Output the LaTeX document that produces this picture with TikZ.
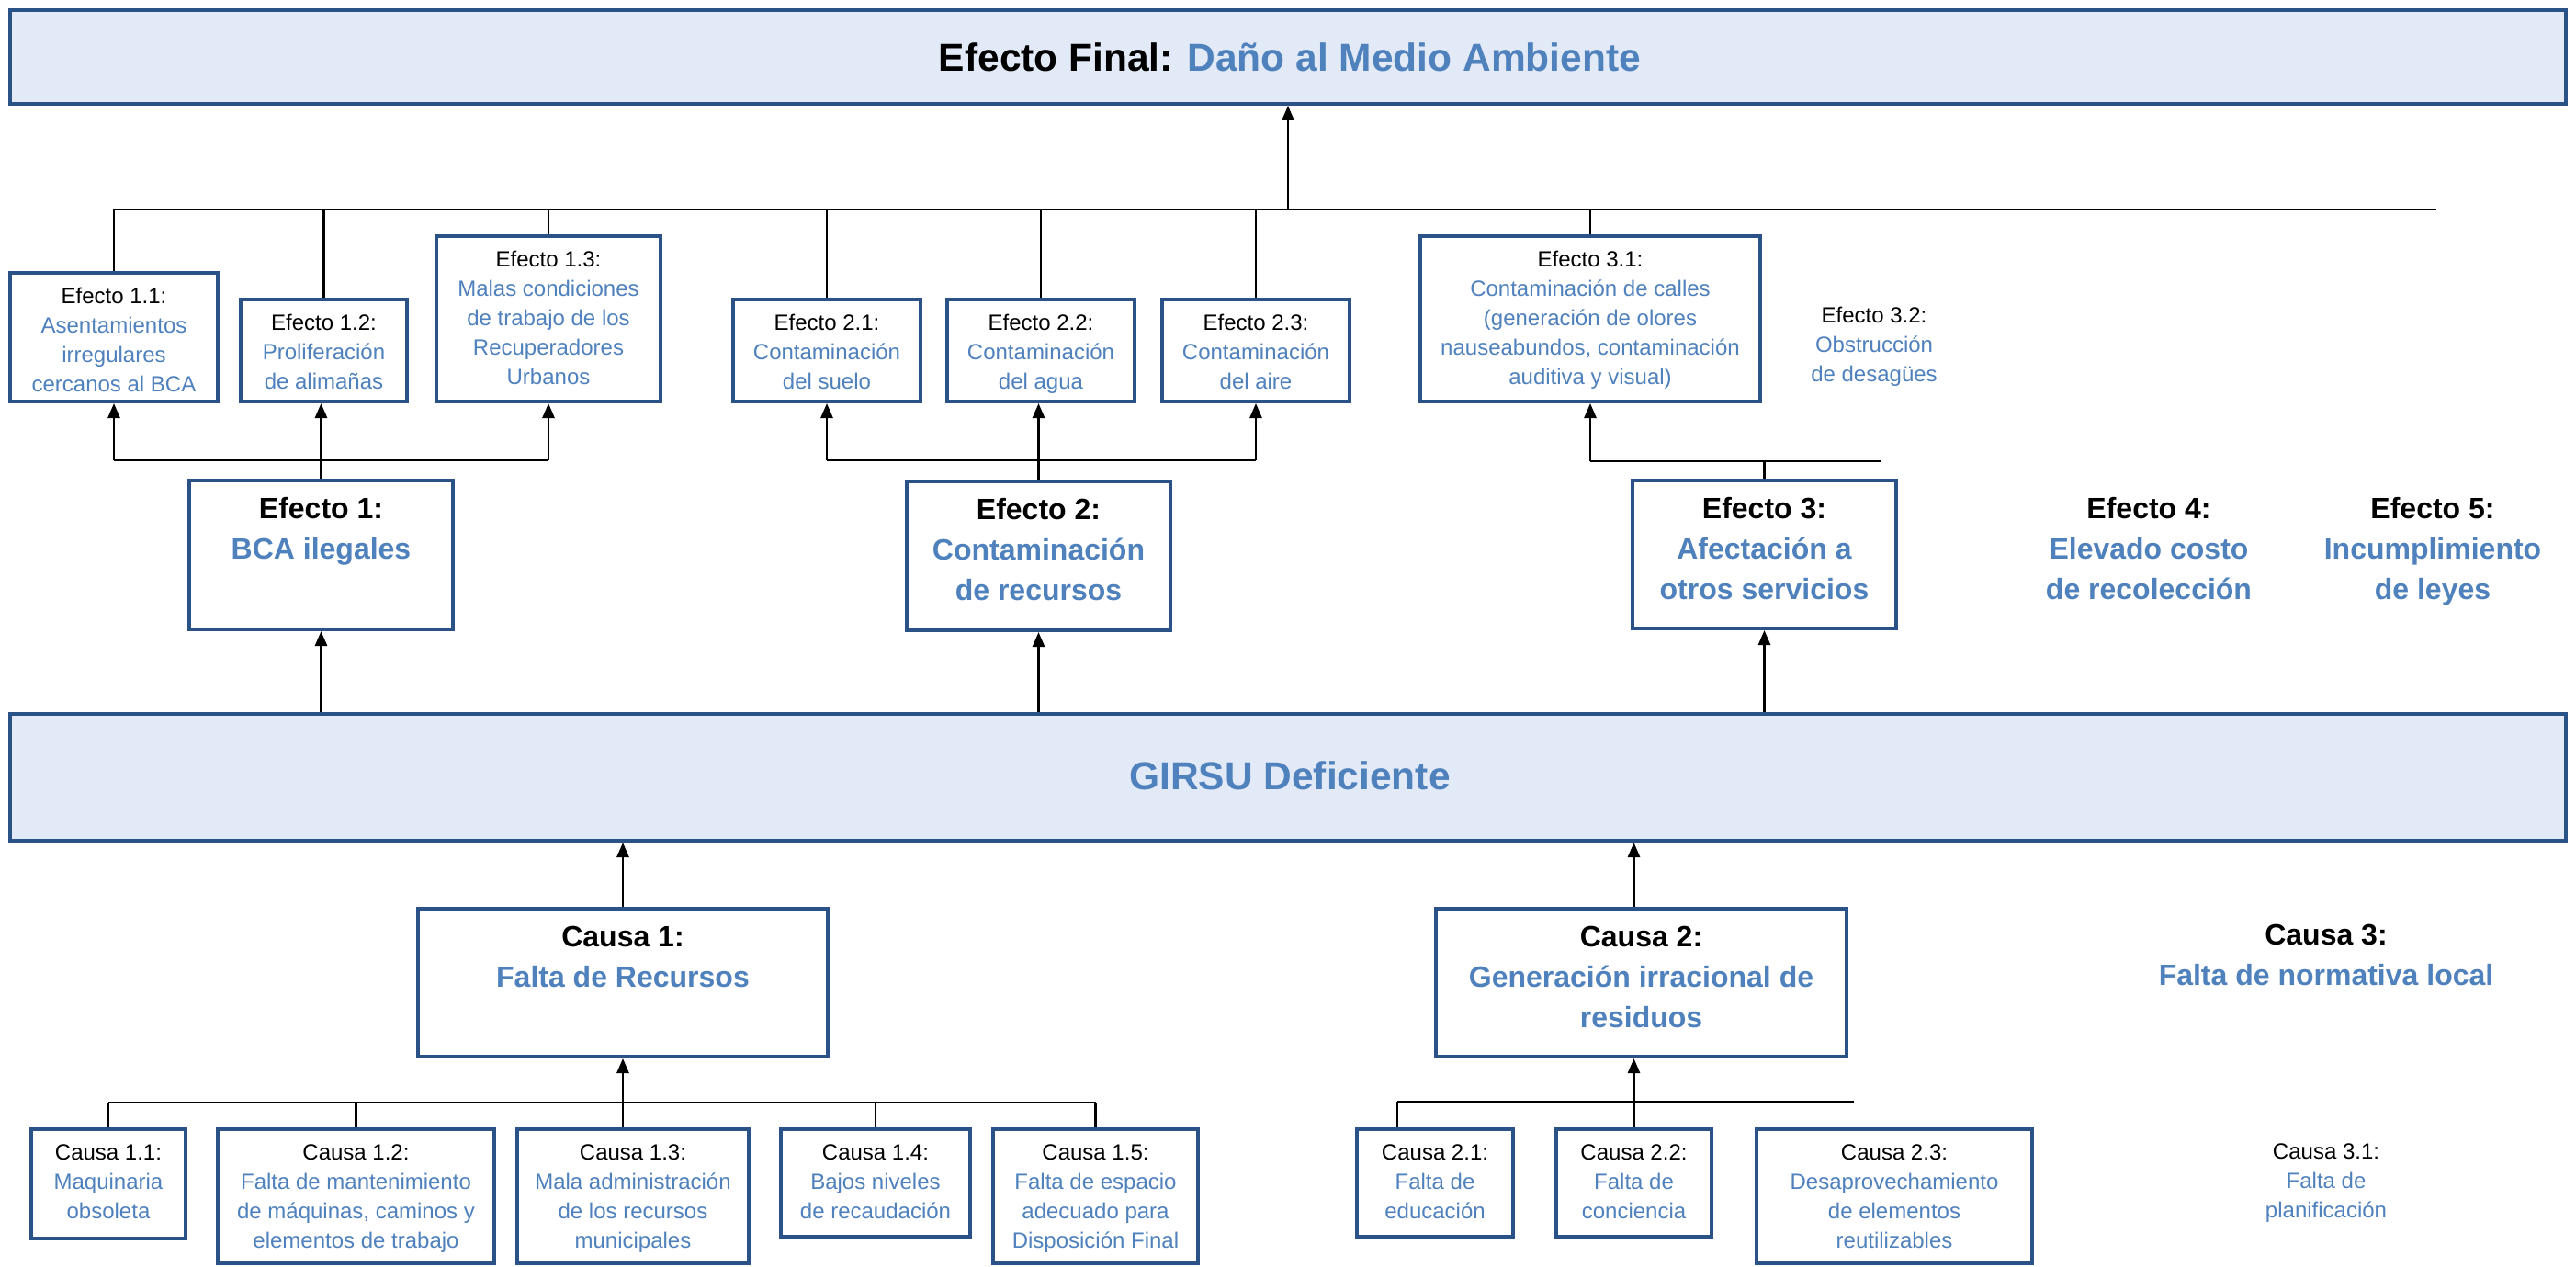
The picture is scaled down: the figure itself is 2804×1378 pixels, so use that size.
\documentclass[tikz,border=0pt]{standalone}
\usepackage{fontspec}
\setmainfont{Liberation Sans}
\usetikzlibrary{arrows.meta}
\definecolor{bdr}{HTML}{2B5286}
\definecolor{tblue}{HTML}{4F81BD}
\definecolor{lfill}{HTML}{E1EAF6}
\tikzset{
 boxn/.style={draw=bdr, line width=4pt, fill=white, inner sep=0pt},
 bigbox/.style={draw=bdr, line width=4pt, fill=lfill, inner sep=0pt},
 subtxt/.style={anchor=north, align=center, inner sep=0pt, text=tblue, font=\fontsize{24}{32}\selectfont},
 midtxt/.style={anchor=north, align=center, inner sep=0pt, text=tblue, font=\fontsize{32}{44}\selectfont\bfseries},
 bigtxt/.style={anchor=base, inner sep=0pt, text=tblue, font=\fontsize{42.5}{50}\selectfont\bfseries},
 conn/.style={line width=2.2pt, black},
 arr/.style={line width=2.6pt, black, -{Triangle[length=16pt,width=13pt]}},
}
\newcommand\subbox[7]{%
 \pgfmathsetmacro\mW{#4-#2-4}\pgfmathsetmacro\mH{#5-#3-4}%
 \pgfmathsetmacro\mX{(#2+#4)/2}\pgfmathsetmacro\mY{(#3+#5)/2}%
 \pgfmathsetmacro\mT{#3+13.1}%
 \node[boxn, minimum width=\mW pt, minimum height=\mH pt] (#1) at (\mX,\mY) {};
 \node[subtxt] (#1t) at (\mX,\mT) {\strut\textcolor{black}{#6}\\#7};}
\newcommand\midbox[7]{%
 \pgfmathsetmacro\mW{#4-#2-4}\pgfmathsetmacro\mH{#5-#3-4}%
 \pgfmathsetmacro\mX{(#2+#4)/2}\pgfmathsetmacro\mY{(#3+#5)/2}%
 \pgfmathsetmacro\mT{#3+12.2}%
 \node[boxn, minimum width=\mW pt, minimum height=\mH pt] (#1) at (\mX,\mY) {};
 \node[midtxt] (#1t) at (\mX,\mT) {\strut\textcolor{black}{#6}\\#7};}
\begin{document}
\begin{tikzpicture}[x=1pt,y=-1pt]
\useasboundingbox (0,0) rectangle (2804,1378);
% main boxes
\node[bigbox, minimum width=2782pt, minimum height=102pt] (top) at (1402,62) {};
\node[bigtxt] (topt) at (1404,78) {\textcolor{black}{Efecto Final:} Daño al Medio Ambiente};
\node[bigbox, minimum width=2782pt, minimum height=138pt] (girsu) at (1402,846) {};
\node[bigtxt] (girsut) at (1404,859) {GIRSU Deficiente};
% effect sub-boxes
\subbox{e11}{9}{295}{239}{439}{Efecto 1.1:}{Asentamientos\\irregulares\\cercanos al BCA}
\subbox{e12}{260}{324}{445}{439}{Efecto 1.2:}{Proliferación\\de alimañas}
\subbox{e13}{473}{255}{721}{439}{Efecto 1.3:}{Malas condiciones\\de trabajo de los\\Recuperadores\\Urbanos}
\subbox{e21}{796}{324}{1004}{439}{Efecto 2.1:}{Contaminación\\del suelo}
\subbox{e22}{1029}{324}{1237}{439}{Efecto 2.2:}{Contaminación\\del agua}
\subbox{e23}{1263}{324}{1471}{439}{Efecto 2.3:}{Contaminación\\del aire}
\subbox{e31}{1544}{255}{1918}{439}{Efecto 3.1:}{Contaminación de calles\\(generación de olores\\nauseabundos, contaminación\\auditiva y visual)}
\node[subtxt] (e32) at (2040,329.2) {\strut\textcolor{black}{Efecto 3.2:}\\Obstrucción\\de desagües};
% effect boxes
\midbox{e1}{204}{521}{495}{687}{Efecto 1:}{BCA ilegales}
\midbox{e2}{985}{522}{1276}{688}{Efecto 2:}{Contaminación\\de recursos}
\midbox{e3}{1775}{521}{2066}{686}{Efecto 3:}{Afectación a\\otros servicios}
\node[midtxt] (e4) at (2339,533.7) {\strut\textcolor{black}{Efecto 4:}\\Elevado costo\\de recolección};
\node[midtxt] (e5) at (2648,533.7) {\strut\textcolor{black}{Efecto 5:}\\Incumplimiento\\de leyes};
% cause boxes
\midbox{c1}{453}{987}{903}{1152}{Causa 1:}{Falta de Recursos}
\midbox{c2}{1561}{987}{2012}{1152}{Causa 2:}{Generación irracional de\\residuos}
\node[midtxt] (c3) at (2532,997.7) {\strut\textcolor{black}{Causa 3:}\\Falta de normativa local};
% cause sub-boxes
\subbox{c11}{32}{1227}{204}{1350}{Causa 1.1:}{Maquinaria\\obsoleta}
\subbox{c12}{235}{1227}{540}{1377}{Causa 1.2:}{Falta de mantenimiento\\de máquinas, caminos y\\elementos de trabajo}
\subbox{c13}{561}{1227}{817}{1377}{Causa 1.3:}{Mala administración\\de los recursos\\municipales}
\subbox{c14}{848}{1227}{1058}{1348}{Causa 1.4:}{Bajos niveles\\de recaudación}
\subbox{c15}{1079}{1227}{1306}{1377}{Causa 1.5:}{Falta de espacio\\adecuado para\\Disposición Final}
\subbox{c21}{1475}{1227}{1649}{1348}{Causa 2.1:}{Falta de\\educación}
\subbox{c22}{1692}{1227}{1865}{1348}{Causa 2.2:}{Falta de\\conciencia}
\subbox{c23}{1910}{1227}{2214}{1377}{Causa 2.3:}{Desaprovechamiento\\de elementos\\reutilizables}
\node[subtxt] (c31) at (2532,1239.2) {\strut\textcolor{black}{Causa 3.1:}\\Falta de\\planificación};
% connectors: top hub
\coordinate (hy) at (0,228);
\coordinate (hubR) at (2652,228);
\draw[conn] (e11.north |- hy) -- (hubR);
\draw[arr] (top.south |- hy) -- (top.south);
\foreach \n in {e11,e12,e13,e21,e22,e23,e31}
  \draw[conn] (\n.north) -- (\n.north |- hy);
% group 1
\coordinate (b1) at (0,501);
\draw[conn] (e11.south |- b1) -- (e13.south |- b1);
\draw[arr] (e11.south |- b1) -- (e11.south);
\draw[arr] (e13.south |- b1) -- (e13.south);
\draw[arr] (e1.north) -- (e1.north |- e12.south);
% group 2
\draw[conn] (e21.south |- b1) -- (e23.south |- b1);
\draw[arr] (e21.south |- b1) -- (e21.south);
\draw[arr] (e23.south |- b1) -- (e23.south);
\draw[arr] (e2.north) -- (e2.north |- e22.south);
% group 3
\coordinate (b3) at (0,502);
\coordinate (b3R) at (2047,502);
\draw[conn] (e31.south |- b3) -- (b3R);
\draw[arr] (e31.south |- b3) -- (e31.south);
\draw[conn] (e3.north) -- (e3.north |- b3);
% girsu to effects
\foreach \n in {e1,e2,e3}
  \draw[arr] (\n.south |- girsu.north) -- (\n.south);
% causes to girsu
\draw[arr] (c1.north) -- (c1.north |- girsu.south);
\draw[arr] (c22.north |- c2.north) -- (c22.north |- girsu.south);
% cause group 1
\coordinate (b4) at (0,1200);
\draw[conn] (c11.north |- b4) -- (c15.north |- b4);
\foreach \n in {c11,c12,c14,c15}
  \draw[conn] (\n.north) -- (\n.north |- b4);
\draw[arr] (c1.south |- c13.north) -- (c1.south);
% cause group 2
\coordinate (c21d) at (1521,1199);
\coordinate (b5R) at (2018,1199);
\draw[conn] (c21d) -- (b5R);
\draw[conn] (c21d) -- (c21d |- c21.north);
\draw[arr] (c22.north) -- (c22.north |- c2.south);
\end{tikzpicture}
\end{document}
